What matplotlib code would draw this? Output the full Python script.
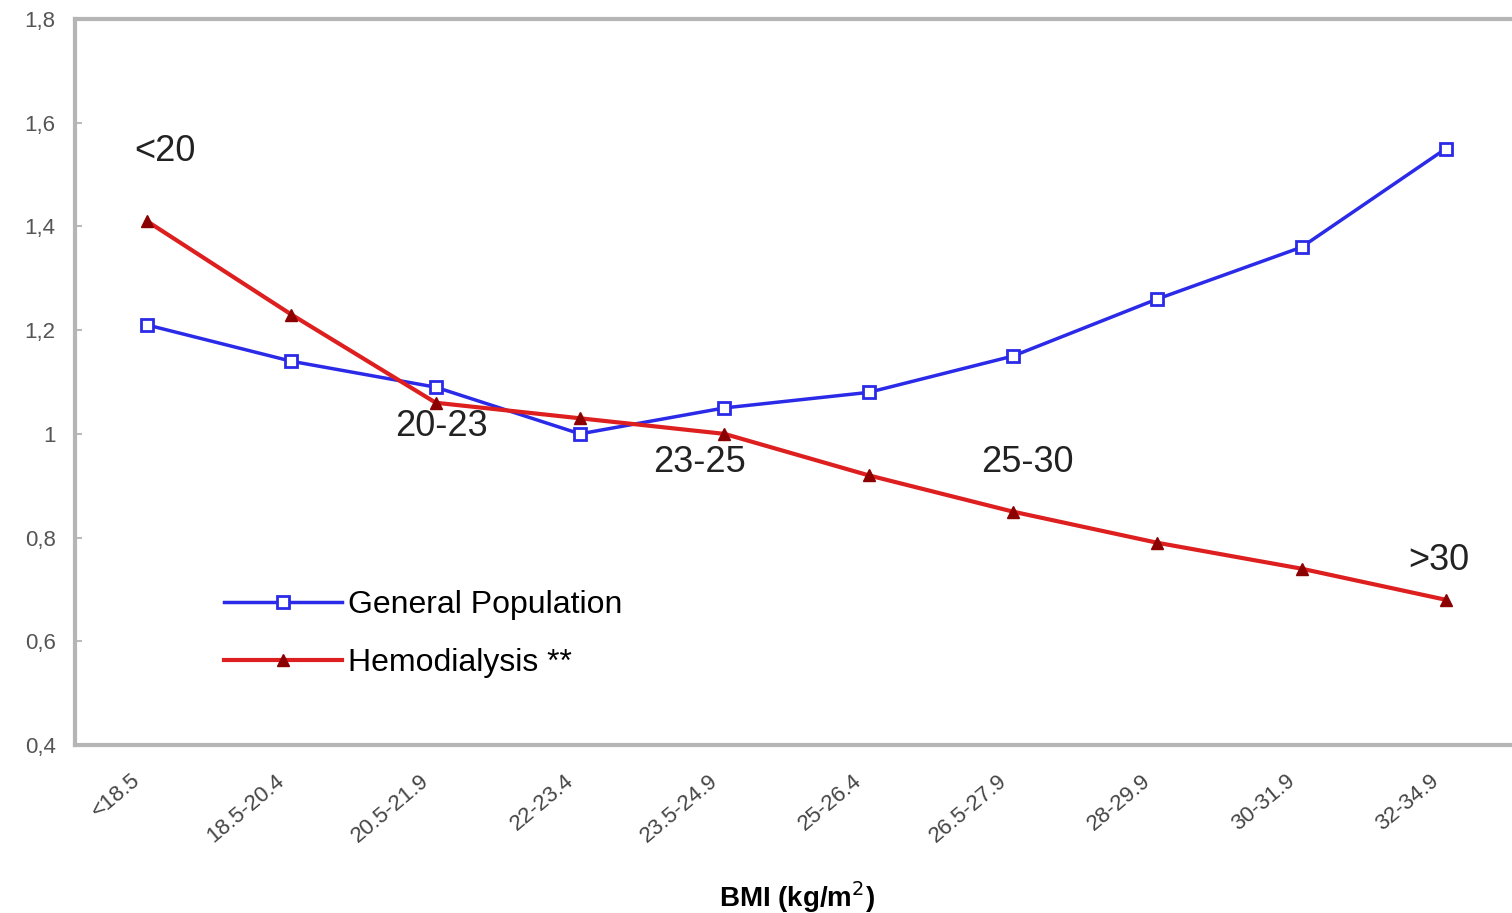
import numpy as np
import matplotlib.pyplot as plt
from matplotlib.transforms import ScaledTranslation

plt.rcParams['font.family'] = ['Liberation Sans', 'DejaVu Sans']

# Datos
categorias = ["<18.5", "18.5-20.4", "20.5-21.9", "22-23.4", "23.5-24.9",
              "25-26.4", "26.5-27.9", "28-29.9", "30-31.9", "32-34.9"]
general = [1.21, 1.14, 1.09, 1.00, 1.05, 1.08, 1.15, 1.26, 1.36, 1.55]
hemodialisis = [1.41, 1.23, 1.06, 1.03, 1.00, 0.92, 0.85, 0.79, 0.74, 0.68]
yticks = [0.4, 0.6, 0.8, 1.0, 1.2, 1.4, 1.6, 1.8]
ytick_labels = ["0,4", "0,6", "0,8", "1", "1,2", "1,4", "1,6", "1,8"]

# Etiquetas de rangos sobre la curva
rangos = ["<20", "20-23", "23-25", "25-30", ">30"]
rangos_x = [0.12, 2.04, 3.83, 6.1, 8.95]
rangos_y = [1.545, 1.015, 0.945, 0.945, 0.755]

W, H = 1512, 913
fig = plt.figure(figsize=(W / 100, H / 100), dpi=100)
ax = fig.add_axes([75 / W, (H - 745) / H, (1518 - 75) / W, (745 - 19) / H])

x = np.arange(len(categorias))
ax.plot(x, general, color='#2a2ae8', lw=2.5, marker='s', ms=8,
        mfc='white', mec='#2a2ae8', mew=2, label="General Population", zorder=3)
ax.plot(x, hemodialisis, color='#dd1f1f', lw=3, marker='^', ms=8,
        mfc='#8b0000', mec='#8b0000', label="Hemodialysis **", zorder=3)

for t, tx, ty in zip(rangos, rangos_x, rangos_y):
    ax.text(tx, ty, t, fontsize=26, ha='center', va='center', color='#222222')

ax.set_xlim(-0.5, 9.5)
ax.set_ylim(0.4, 1.8)
ax.set_xticks(x)
ax.set_xticklabels(categorias, rotation=40, ha='right', rotation_mode='anchor',
                   fontsize=16, color='#444444')
ax.set_yticks(yticks)
ax.set_yticklabels(ytick_labels, fontsize=16, color='#555555')
ax.tick_params(axis='x', length=0, pad=18)
ax.tick_params(axis='y', length=5, width=1.5, color='#bbbbbb', direction='in', pad=14)

# correr las etiquetas del eje x un poco a la izquierda
desplaza = ScaledTranslation(-16 / 100, 0, fig.dpi_scale_trans)
for lab in ax.xaxis.get_majorticklabels():
    lab.set_transform(lab.get_transform() + desplaza)

for side in ['left', 'top', 'bottom']:
    ax.spines[side].set_color('#b5b5b5')
    ax.spines[side].set_linewidth(3)
ax.spines['right'].set_visible(False)

ax.set_xlabel("BMI (kg/m$^2$)", fontsize=20, fontweight='bold')
ax.xaxis.set_label_coords(0.5, -0.185)

ax.legend(loc='lower left', bbox_to_anchor=(0.083, 0.052), frameon=False,
          fontsize=23, handlelength=3.7, labelspacing=0.9, handletextpad=0.2)

plt.savefig("out.png", dpi=100)
